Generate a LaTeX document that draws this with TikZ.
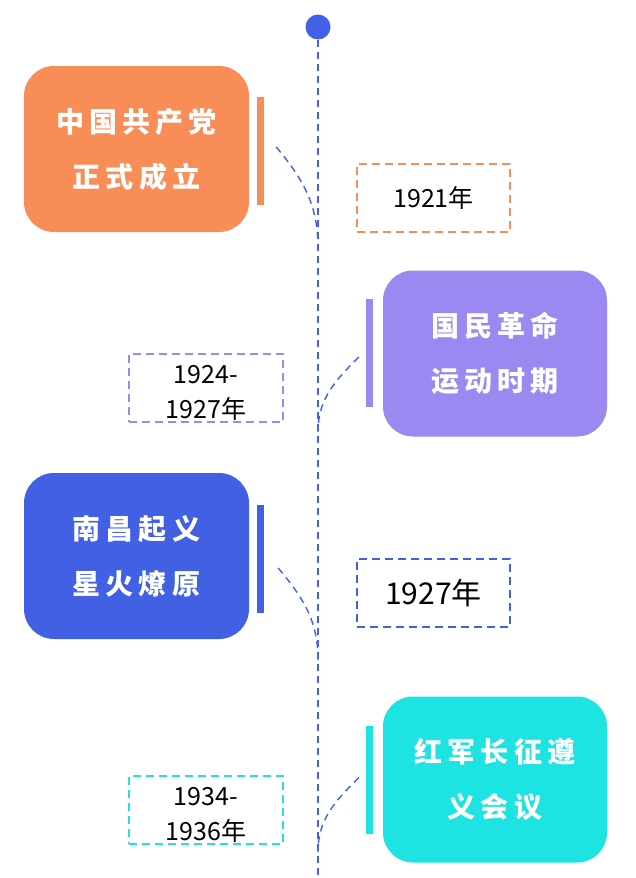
\documentclass[tikz,border=0pt]{standalone}
\usepackage{fontspec}
\setmainfont{Noto Sans CJK SC}
\newfontfamily\eventfont[LetterSpace=18]{Noto Sans CJK SC}
\definecolor{TimelineBlue}{HTML}{4361E6}
\definecolor{EventOrange}{HTML}{F98D57}
\definecolor{EventPurple}{HTML}{9B88F1}
\definecolor{EventBlue}{HTML}{4160E3}
\definecolor{EventCyan}{HTML}{1EE3E3}

\begin{document}
\begin{tikzpicture}[x=1pt,y=-1pt,
    eventbox/.style={rounded corners=30pt,minimum width=225pt,minimum height=166pt,inner sep=0pt,
      text=white,align=center,font=\eventfont\bfseries\fontsize{28}{55}\selectfont},
    eventbar/.style={minimum width=7pt,minimum height=108pt,inner sep=0pt},
    datebox/.style={draw,dash pattern=on 8pt off 5pt,line width=2pt,minimum width=153pt,
      minimum height=68pt,inner sep=0pt,align=center,font=\fontsize{25}{35}\selectfont},
    twoline/.style={text height=64pt,text depth=3pt},
    link/.style={TimelineBlue,line width=1.8pt,dash pattern=on 7pt off 5pt}]
  \useasboundingbox (0,0) rectangle (635,878);

  \node[circle,fill=TimelineBlue,minimum size=25pt,inner sep=0pt] (top) at (318,27) {};
  \coordinate (bottom) at (318,878);
  \draw[link] (top) -- (bottom);

  \node[eventbox,fill=EventOrange] (party) at (136.5,149) {中国共产党\\正式成立};
  \node[eventbar,fill=EventOrange] (partybar) at (260.5,151) {};
  \node[datebox,draw=EventOrange] (partydate) at (433.5,197.5) {1921年};

  \node[eventbox,fill=EventPurple,minimum width=224pt] (revolution) at (495,353.5) {国民革命\\运动时期};
  \node[eventbar,fill=EventPurple] (revolutionbar) at (369.5,353) {};
  \node[datebox,twoline,draw=EventPurple,minimum width=154pt] (revolutiondate) at (206,387.5) {1924-\\1927年};

  \node[eventbox,fill=EventBlue] (uprising) at (136.5,556) {南昌起义\\星火燎原};
  \node[eventbar,fill=EventBlue] (uprisingbar) at (260.5,559) {};
  \node[datebox,draw=EventBlue,font=\fontsize{30}{35}\selectfont] (uprisingdate) at (433.5,593) {1927年};

  \node[eventbox,fill=EventCyan,minimum width=224pt] (march) at (495,779.5) {红军长征遵\\义会议};
  \node[eventbar,fill=EventCyan] (marchbar) at (369.5,779.5) {};
  \node[datebox,twoline,draw=EventCyan,minimum width=154pt] (marchdate) at (206,810) {1934-\\1936年};

  \coordinate (t1) at (318,248);
  \coordinate (t2) at (318,432);
  \coordinate (t3) at (318,660);
  \coordinate (t4) at (318,852);
  \draw[link,line width=1.4pt] ([xshift=12pt,yshift=4pt]partybar.east) to[out=-50,in=90] (t1);
  \draw[link,line width=1.4pt] ([xshift=-7pt,yshift=-4pt]revolutionbar.west) to[out=-135,in=90] (t2);
  \draw[link,line width=1.4pt] ([xshift=14pt,yshift=-9pt]uprisingbar.east) to[out=-50,in=90] (t3);
  \draw[link,line width=1.4pt] ([xshift=-7pt,yshift=2pt]marchbar.west) to[out=-135,in=90] (t4);
\end{tikzpicture}
\end{document}
